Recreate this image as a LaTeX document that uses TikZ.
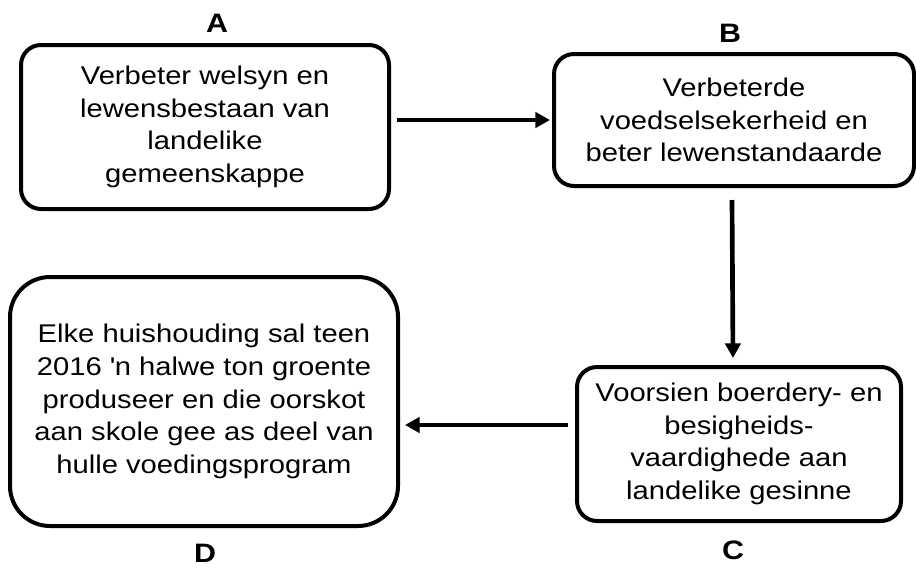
\documentclass[tikz,border=0pt]{standalone}
\usepackage{fontspec}
\setmainfont[FakeStretch=1.14]{Liberation Sans}
\usetikzlibrary{arrows.meta,calc}
\tikzset{
	box/.style={draw, line width=3pt, rounded corners=15pt, align=center, inner sep=0pt, font=\fontsize{19.2pt}{24.5pt}\selectfont},
	lbl/.style={font=\fontsize{20pt}{24pt}\selectfont\bfseries},
	arr/.style={line width=3.5pt, -{Triangle[length=11pt,width=11.5pt]}}
}
\begin{document}
\begin{tikzpicture}[x=0.75pt,y=-0.75pt,line join=round]
	\useasboundingbox (0,0) rectangle (916,568);
	\node[box, minimum width=276pt, minimum height=123pt] (A) at (205,127) {Verbeter welsyn en\\lewensbestaan van\\landelike\\gemeenskappe};
	\node[box, minimum width=270pt, minimum height=99pt] (B) at (734,120) {Verbeterde\\voedselsekerheid en\\beter lewenstandaarde};
	\node[box, minimum width=243pt, minimum height=115.5pt] (C) at (739,444) {Voorsien boerdery- en\\besigheids-\\vaardighede aan\\landelike gesinne};
	\node[box, rounded corners=30pt, minimum width=291pt, minimum height=186.75pt] (D) at (204,401.5) {Elke huishouding sal teen\\2016 \textquotesingle n halwe ton groente\\produseer en die oorskot\\aan skole gee as deel van\\hulle voedingsprogram};
	\node[lbl] (la) at (217,23) {A};
	\node[lbl] (lb) at (730,33) {B};
	\node[lbl] (lc) at (733,550) {C};
	\node[lbl] (ld) at (205,553) {D};
	\draw[arr] ($(A.east |- B.west)+(6,0)$) -- ($(B.west)+(-2,0)$);
	\draw[arr] ($(B.south)+(-2,12)$) -- ($(B.south |- C.north)+(-1,-7)$);
	\draw[arr] ($(C.west)+(-7,-19)$) -- ($(D.east |- C.west)+(5,-19)$);
\end{tikzpicture}
\end{document}
